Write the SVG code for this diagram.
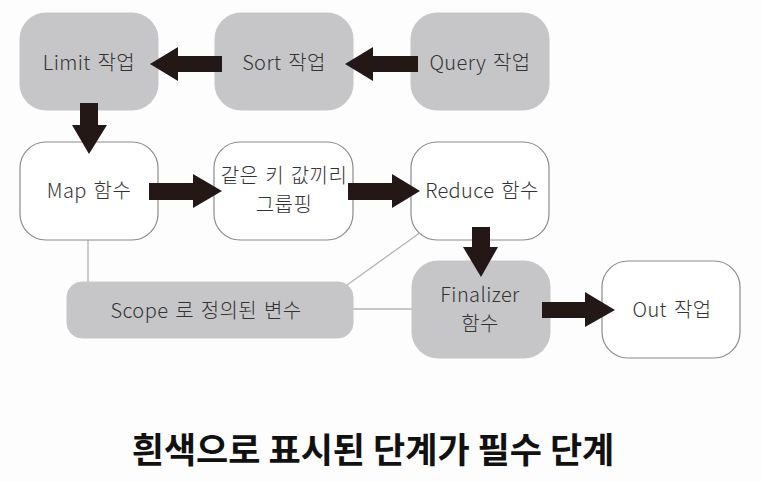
<svg xmlns="http://www.w3.org/2000/svg" width="762" height="482" viewBox="0 0 762 482">
<style>
.g{fill:#c6c6c8;stroke:#c6c6c8;stroke-width:1}
.w{fill:#ffffff;stroke:#8c8c8c;stroke-width:1.2}
.t{font-family:"Noto Sans CJK KR","Noto Sans",sans-serif;font-size:20px;font-weight:300;word-spacing:2px;letter-spacing:0.4px;fill:#333;text-anchor:middle}
.a{fill:#231815}
.l{stroke:#b4b4b4;stroke-width:1.3;fill:none}
.title{font-family:"Noto Sans CJK KR","Noto Sans",sans-serif;font-size:35px;font-weight:bold;fill:#111;text-anchor:middle}
</style>
<rect width="762" height="482" fill="#fdfdfd"/>
<g id="lines">
<line class="l" x1="88" y1="240" x2="88" y2="283"/>
<line class="l" x1="347" y1="285" x2="421" y2="232"/>
<line class="l" x1="353" y1="309" x2="412" y2="309"/>
</g>
<g id="limit"><rect class="g" x="20" y="13" width="138" height="97" rx="26"/><text class="t" x="89" y="70">Limit 작업</text></g>
<g id="sort"><rect class="g" x="215" y="13" width="138" height="97" rx="26"/><text class="t" x="284" y="70">Sort 작업</text></g>
<g id="query"><rect class="g" x="411" y="13" width="138" height="97" rx="26"/><text class="t" x="480" y="70">Query 작업</text></g>
<g id="map"><rect class="w" x="20" y="142" width="138" height="98" rx="26"/><text class="t" x="89" y="198">Map 함수</text></g>
<g id="group"><rect class="w" x="214" y="142" width="139" height="98" rx="26"/><text class="t" x="284" y="183">같은 키 값끼리</text><text class="t" x="284" y="212">그룹핑</text></g>
<g id="reduce"><rect class="w" x="411" y="142" width="138" height="98" rx="26"/><text class="t" x="482" y="198">Reduce 함수</text></g>
<g id="scope"><rect class="g" x="67" y="282" width="286" height="56" rx="15"/><text class="t" x="206" y="318">Scope 로 정의된 변수</text></g>
<g id="finalizer"><rect class="g" x="412" y="261" width="138" height="97" rx="26"/><text class="t" x="480" y="302">Finalizer</text><text class="t" x="480" y="331">함수</text></g>
<g id="out"><rect class="w" x="602" y="261" width="138" height="97" rx="26"/><text class="t" x="672" y="317">Out 작업</text></g>
<g id="connectors">
<polygon class="a" points="222,56 178,56 178,47 150,64 178,81 178,72 222,72"/>
<polygon class="a" points="418,56 373,56 373,47 345,64 373,81 373,72 418,72"/>
<polygon class="a" points="80,103 98,103 98,125 107,125 89,154 72,125 80,125"/>
<polygon class="a" points="149,183 193,183 193,174 222,191 193,208 193,200 149,200"/>
<polygon class="a" points="348,183 392,183 392,174 420,191 392,208 392,200 348,200"/>
<polygon class="a" points="472,227 490,227 490,247 498,247 481,277 463,247 472,247"/>
<polygon class="a" points="542,302 585,302 585,292 615,310 585,327 585,318 542,318"/>
</g>
<text class="title" x="373" y="463">흰색으로 표시된 단계가 필수 단계</text>
</svg>
